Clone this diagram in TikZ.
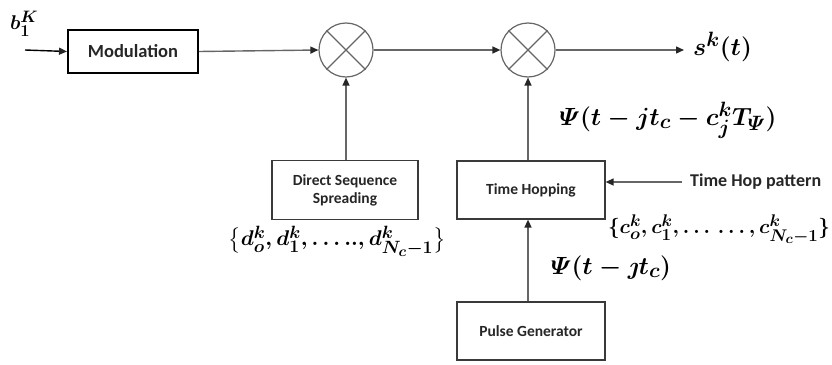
\documentclass[tikz,border=0pt]{standalone}
\usepackage{amsmath}
\usepackage{graphicx}
\usepackage{fontspec}
\setmainfont{Carlito}
\usetikzlibrary{arrows.meta}
\definecolor{wire}{HTML}{666666}
\definecolor{frame}{HTML}{3A3A3A}
\begin{document}
\begin{tikzpicture}[x=1pt,y=-1pt,
  wirearrow/.style={draw=wire,line width=1.4pt,-{Triangle[length=8pt,width=7pt,color=black!85]}},
  blockbox/.style={draw=frame,line width=1.2pt,rectangle,inner sep=0pt,align=center,
    font=\fontsize{15.5}{18}\bfseries\selectfont,text=black!85},
  mixer/.style={draw=wire,line width=1.2pt,circle,minimum size=54pt,inner sep=0pt},
  mathlabel/.style={inner sep=0pt,font=\fontsize{24.88}{29}\selectfont\boldmath}]
\useasboundingbox (0,0) rectangle (832,364);

% blocks
\node[draw=black,line width=2pt,rectangle,minimum width=130pt,minimum height=43pt,
  inner sep=0pt,font=\fontsize{18.5}{22}\bfseries\selectfont,text=black!85]
  (mod) at (133,51.5) {Modulation};
\node[mixer] (mixa) at (346,50) {};
\node[mixer] (mixb) at (528,50) {};
\draw[wire,line width=1.2pt] (mixa.north east) -- (mixa.south west)
  (mixa.north west) -- (mixa.south east);
\draw[wire,line width=1.2pt] (mixb.north east) -- (mixb.south west)
  (mixb.north west) -- (mixb.south east);
\node[blockbox,minimum width=146pt,minimum height=59pt] (dss) at (345,190)
  {Direct Sequence\\Spreading};
\node[blockbox,minimum width=148pt,minimum height=58pt] (th) at (531,190) {Time Hopping};
\node[blockbox,minimum width=148pt,minimum height=58pt] (pg) at (531,331) {Pulse Generator};

% free ends
\coordinate (src) at (25,50);
\coordinate (sink) at (684,50);
\coordinate (hop) at (682,182);

% connectors
\draw[wirearrow,draw=black] (src) -- (mod.west);
\draw[wirearrow] (mod.east) -- (mixa.west);
\draw[wirearrow] (mixa.east) -- (mixb.west);
\draw[wirearrow] (mixb.east) -- (sink);
\draw[wirearrow] (dss.north -| mixa.south) -- (mixa.south);
\draw[wirearrow] (th.north -| mixb.south) -- (mixb.south);
\draw[wirearrow] (pg.north -| mixb.south) -- (th.south -| mixb.south);
\draw[wirearrow] (hop) -- (hop -| th.east);

% labels
\node[mathlabel] (bin) at (24,24) {\resizebox{28pt}{!}{$b_1^K$}};
\node[mathlabel,anchor=west] (sout) at (693,47) {$s^k(t)$};
\node[mathlabel] (psia) at (668,120) {$\varPsi(t-jt_c-c_j^kT_{\varPsi})$};
\node[mathlabel] (dset) at (337,241)
  {\resizebox{217pt}{!}{$\bigl\{d_o^k,d_1^k,\ldots..,d_{N_c-1}^k\bigr\}$}};
\node[mathlabel] (cset) at (719,229)
  {\resizebox{222pt}{!}{$\{c_o^k,c_1^k,\ldots\,\ldots,c_{N_c-1}^k\}$}};
\node[mathlabel] (psib) at (611,268) {$\varPsi(t-\jmath t_c)$};
\node[anchor=west,inner sep=0pt,font=\fontsize{18}{21}\bfseries\selectfont,text=black!85]
  (hoplabel) at (690,182) {Time Hop pattern};
\end{tikzpicture}
\end{document}
